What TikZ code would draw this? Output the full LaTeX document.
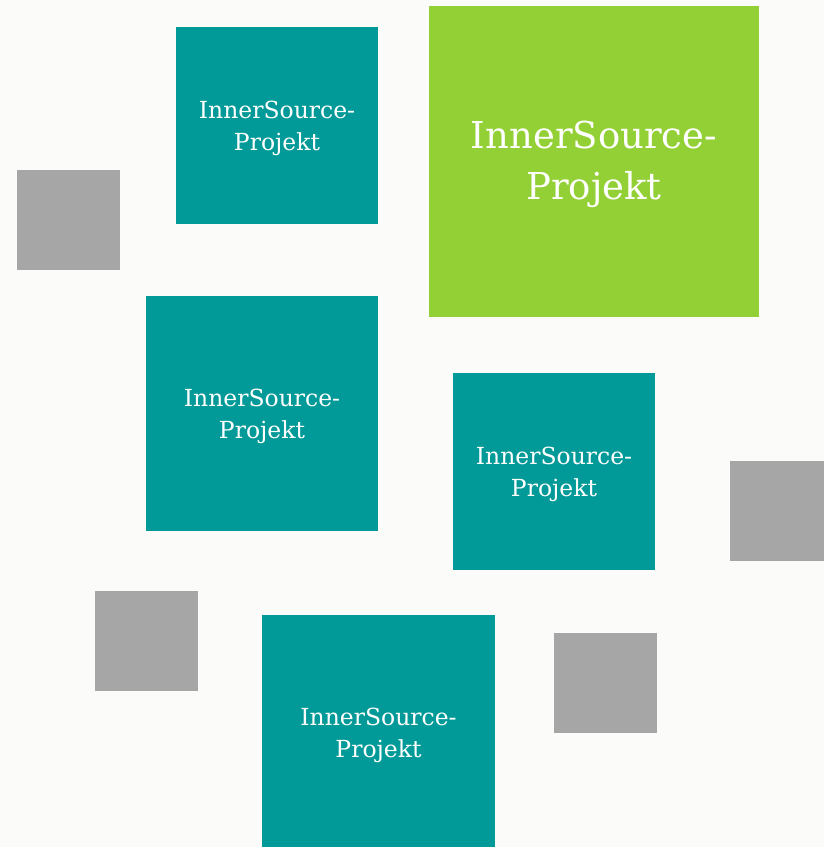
\documentclass[tikz,border=0pt]{standalone}
\usepackage{fontspec}
\setmainfont{DejaVu Serif}
\definecolor{isteal}{HTML}{029A98}
\definecolor{isgreen}{HTML}{92D036}
\definecolor{isgray}{HTML}{A6A6A6}
\definecolor{isback}{HTML}{FBFBF9}
\tikzset{
    proj/.style={fill=isteal, inner sep=0pt, text=white, align=center,
        font=\fontsize{23.5}{32}\selectfont},
    bigproj/.style={fill=isgreen, inner sep=0pt, text=white, align=center,
        font=\fontsize{37}{51}\selectfont},
    blank/.style={fill=isgray, inner sep=0pt, minimum width=103pt, minimum height=100pt}
}
\begin{document}
\begin{tikzpicture}[x=1pt, y=-1pt]
    \fill[isback] (0,0) rectangle (824,847);
    \useasboundingbox (0,0) rectangle (824,847);
    \node[proj, minimum width=202pt, minimum height=197pt] (p1) at (277,125.5) {};
    \node[bigproj, minimum width=330pt, minimum height=311pt] (big) at (594,161.5) {};
    \node[proj, minimum width=232pt, minimum height=235pt] (p2) at (262,413.5) {};
    \node[proj, minimum width=202pt, minimum height=197pt] (p3) at (554,471.5) {};
    \node[proj, minimum width=233pt, minimum height=233pt] (p4) at (378.5,731.5) {};
    % labels
    \node[proj, fill=none] (t1) at (277,128) {InnerSource-\\Projekt};
    \node[bigproj, fill=none] (tbig) at (594,164) {InnerSource-\\Projekt};
    \node[proj, fill=none] (t2) at (262,416) {InnerSource-\\Projekt};
    \node[proj, fill=none] (t3) at (554,474) {InnerSource-\\Projekt};
    \node[proj, fill=none] (t4) at (378.5,735) {InnerSource-\\Projekt};
    % grey squares
    \node[blank] (g1) at (68.5,220) {};
    \node[blank] (g2) at (781.5,511) {};
    \node[blank] (g3) at (146.5,641) {};
    \node[blank] (g4) at (605.5,683) {};
\end{tikzpicture}
\end{document}
